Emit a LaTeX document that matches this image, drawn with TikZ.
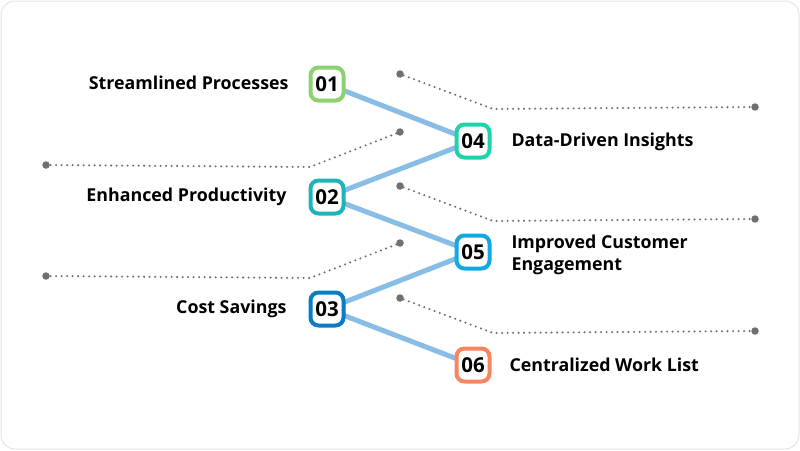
\documentclass[tikz,border=0pt]{standalone}
\usepackage{fontspec}
\setmainfont{Open Sans}
\definecolor{c1}{HTML}{8CD26E}\definecolor{c2}{HTML}{1FB5B8}\definecolor{c3}{HTML}{0A7CC4}
\definecolor{c4}{HTML}{1ED3A8}\definecolor{c5}{HTML}{12A8E0}\definecolor{c6}{HTML}{F7855F}
\definecolor{lk}{HTML}{88BDE6}\definecolor{dt}{HTML}{707070}
\begin{document}
\begin{tikzpicture}[x=1pt,y=-1pt,
 num/.style={draw=#1,line width=4pt,fill=white,rounded corners=8pt,minimum size=33pt,inner sep=0pt,font=\bfseries\fontsize{20.5}{22}\selectfont},
 lab/.style={font=\bfseries\fontsize{17.8}{22}\selectfont,align=left},
 link/.style={draw=lk,line width=5pt},
 dots/.style={draw=dt,line width=2.3pt,dash pattern=on 0pt off 5.5pt,line cap=round},
 dotend/.style={circle,fill=dt,inner sep=0pt,minimum size=7.5pt}]
\useasboundingbox (0,0) rectangle (800,450);
\draw[draw=black!10,line width=1pt,rounded corners=14pt,fill=white] (1,1) rectangle (799,449);
% dotted lines
\foreach \y/\n in {74/a,186/b,298/c}{
 \node[dotend] (s\n) at (400,\y) {};
 \node[dotend] (e\n) at (755,\y+33) {};
 \coordinate (m\n) at (493,\y+35);
 \draw[dots] (s\n) -- (m\n) -- (e\n);}
\foreach \y/\n in {132/d,243/e}{
 \node[dotend] (s\n) at (400,\y) {};
 \node[dotend] (e\n) at (46,\y+33) {};
 \coordinate (m\n) at (310,\y+35);
 \draw[dots] (s\n) -- (m\n) -- (e\n);}
\coordinate (p1) at (327,84);\coordinate (p4) at (473,141);\coordinate (p2) at (327,197);
\coordinate (p5) at (473,252);\coordinate (p3) at (327,309);\coordinate (p6) at (473,365);
\draw[link] (p1)--(p4)--(p2)--(p5)--(p3)--(p6);
\node[num=c1] (n1) at (p1) {01};
\node[num=c4] (n4) at (p4) {04};
\node[num=c2] (n2) at (p2) {02};
\node[num=c5] (n5) at (p5) {05};
\node[num=c3] (n3) at (p3) {03};
\node[num=c6] (n6) at (p6) {06};
\node[lab,anchor=east] (l1) at (292,83) {Streamlined Processes};
\node[lab,anchor=east] (l2) at (290,197) {Enhanced Productivity};
\node[lab,anchor=east] (l3) at (290,309) {Cost Savings};
\node[lab,anchor=west] (l4) at (508,142) {Data-Driven Insights};
\node[lab,anchor=west] (l5) at (508,255) {Improved Customer\\Engagement};
\node[lab,anchor=west] (l6) at (506,365) {Centralized Work List};
\end{tikzpicture}
\end{document}
